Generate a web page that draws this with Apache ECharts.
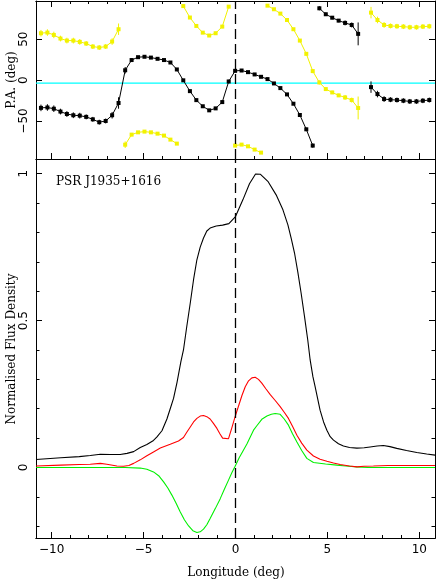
<!DOCTYPE html>
<html>
<head>
<meta charset="utf-8">
<title>PSR J1935+1616</title>
<script src="https://cdn.jsdelivr.net/npm/echarts@6.0.0/dist/echarts.min.js"></script>
<style>
  html, body { margin: 0; padding: 0; background: #fff; }
  #chart { width: 436px; height: 580px; }
</style>
</head>
<body>
<div id="chart"></div>
<script>
// 上图：偏振角 (deg)
const paLon = [-10.58, -10.23, -9.88, -9.52, -9.17, -8.82, -8.47, -8.12, -7.76, -7.41,
  -7.06, -6.71, -6.36, -6.00, -5.65, -5.30, -4.95, -4.60, -4.24, -3.89,
  -3.54, -3.19, -2.84, -2.48, -2.13, -1.78, -1.43, -1.08, -0.72, -0.37,
  -0.02, 0.33, 0.68, 1.04, 1.39, 1.74, 2.09, 2.44, 2.80, 3.15,
  3.50, 3.85, 4.20, 4.56, 4.91, 5.26, 5.61, 5.96, 6.32, 6.67,
  7.02, 7.37, 7.72, 8.08, 8.43, 8.78, 9.13, 9.48, 9.84, 10.19, 10.54]
const paBlack = [-34, -33.5, -35, -38.5, -41.5, -43, -43.5, -45, -48, -51.5,
  -50, -43, -28, 12, 24.5, 28, 28.5, 27.5, 26, 24.5,
  21.5, 13, -0.3, -13.5, -24.5, -32, -37, -34.6, -26.9, -1.7,
  11.3, 11.7, 9.7, 6.9, 4.0, 1.2, -4.1, -9.8, -17.5, -28.9,
  -42.7, -60.2, -80.1, 87.8, 80.5, 76.3, 72.7, 69.9, 67.4, 56.5,
  null, -8.6, -17.1, -23.2, -24.0, -24.4, -25.2, -26.1, -26.1, -25.2, -24.4]
const paYellow = [57.3, 58.1, 55.2, 50.8, 48.3, 48.3, 46.7, 44.7, 41.0, 39.8,
  41.0, 47.1, 62.2, -79.0, -66.7, -63.9, -63.0, -63.9, -65.5, -67.9,
  -72.8, -77.7, 90.5, 76.5, 66.2, 58, 54.5, 57.3, 65.4, 89.8,
  -80.1, -78.9, -81, -85, -88.7, 91.0, 86.6, 81.3, 73.5, 62.2,
  48.3, 32.1, 11.0, -2.9, -11.0, -15.1, -18.7, -21.2, -24.4, -34.1,
  null, 82.5, 73.5, 67.4, 66.2, 65.8, 65.4, 64.6, 64.6, 65.4, 65.8]
const paErr = [4, 4, 4, 3.5, 3.5, 3.5, 3.5, 3, 3, 3,
  3, 4, 7, 4, 2, 1.5, 1.5, 1.5, 1.5, 1.5,
  1.5, 1.5, 1.5, 1.5, 1.5, 1.5, 1.5, 1.5, 2, 2,
  1.5, 1.5, 1.5, 1.5, 1.5, 1.5, 1.5, 1.5, 1.5, 1.5,
  1.5, 2, 2.5, 2.5, 2, 2, 2, 3, 3, 14,
  null, 7, 4, 3.5, 3, 3, 3, 3, 3, 3, 3]
// 参考水平线 (青色)
const baseLon = [-10.85, 10.85]
const baseVal = [-3.7, -3.7]

// 下图：归一化流量 I / L / V
const iLon = [-10.85, -9.5, -8.5, -7.9, -7.35, -6.8, -6.27, -5.9, -5.54, -5.18,
  -4.82, -4.46, -4.27, -4.0, -3.73, -3.55, -3.37, -3.18, -2.97, -2.83,
  -2.65, -2.46, -2.28, -2.10, -1.92, -1.74, -1.56, -1.38, -1.05, -0.70,
  -0.36, 0, 0.40, 0.76, 1.09, 1.36, 1.76, 2.21, 2.58, 2.85,
  3.03, 3.21, 3.39, 3.57, 3.75, 3.93, 4.06, 4.21, 4.33, 4.60,
  4.79, 4.97, 5.15, 5.33, 5.6, 5.87, 6.2, 6.6, 7.0, 7.32,
  7.7, 8.04, 8.4, 8.77, 9.3, 9.86, 10.4, 10.85]
const iVal = [0.027, 0.033, 0.037, 0.041, 0.045, 0.044, 0.044, 0.048, 0.054, 0.068,
  0.078, 0.092, 0.104, 0.125, 0.165, 0.200, 0.235, 0.290, 0.360, 0.40,
  0.48, 0.56, 0.64, 0.707, 0.750, 0.781, 0.805, 0.815, 0.822, 0.825,
  0.830, 0.854, 0.911, 0.966, 0.999, 0.998, 0.974, 0.928, 0.877, 0.826,
  0.78, 0.730, 0.665, 0.593, 0.515, 0.434, 0.366, 0.309, 0.275, 0.195,
  0.155, 0.127, 0.105, 0.093, 0.081, 0.073, 0.068, 0.066, 0.067, 0.070,
  0.073, 0.075, 0.071, 0.065, 0.058, 0.051, 0.046, 0.042]
const lLon = [-10.85, -9.5, -8.5, -7.9, -7.35, -7.0, -6.45, -6.09, -5.8, -5.54,
  -5.18, -4.82, -4.46, -4.09, -3.55, -3.10, -2.83, -2.65, -2.46, -2.28,
  -2.10, -1.92, -1.74, -1.56, -1.38, -1.20, -1.01, -0.85, -0.70, -0.38,
  -0.20, -0.02, 0.17, 0.35, 0.53, 0.71, 0.89, 1.07, 1.25, 1.43,
  1.65, 1.89, 2.16, 2.43, 2.65, 2.88, 3.1, 3.34, 3.6, 3.88,
  4.24, 4.6, 4.97, 5.33, 5.69, 6.2, 6.6, 7.0, 7.5, 8.3,
  9.13, 10.0, 10.85]
const lVal = [0.005, 0.008, 0.010, 0.011, 0.014, 0.011, 0.005, 0.004, 0.007, 0.014,
  0.026, 0.040, 0.053, 0.066, 0.079, 0.090, 0.102, 0.12, 0.138, 0.155,
  0.167, 0.175, 0.177, 0.173, 0.165, 0.150, 0.133, 0.115, 0.100, 0.098,
  0.135, 0.173, 0.21, 0.245, 0.275, 0.295, 0.305, 0.307, 0.300, 0.287,
  0.268, 0.248, 0.228, 0.207, 0.188, 0.167, 0.14, 0.110, 0.083, 0.059,
  0.039, 0.028, 0.021, 0.015, 0.010, 0.005, 0.002, 0.004, 0.005, 0.007,
  0.007, 0.007, 0.007]
const vLon = [-10.85, -8, -6, -5.18, -4.82, -4.46, -4.18, -3.91, -3.68, -3.46,
  -3.23, -3.01, -2.78, -2.55, -2.32, -2.10, -1.92, -1.74, -1.56, -1.38,
  -1.10, -0.83, -0.60, -0.38, -0.20, -0.02, 0.20, 0.43, 0.62, 0.98,
  1.16, 1.43, 1.71, 1.95, 2.16, 2.43, 2.65, 2.88, 3.1, 3.34,
  3.6, 3.88, 4.24, 4.9, 5.51, 6.0, 6.6, 7.2, 8.5, 10.85]
const vVal = [0.0, 0.0, 0.0, -0.002, -0.006, -0.015, -0.028, -0.049, -0.07, -0.094,
  -0.122, -0.151, -0.178, -0.199, -0.215, -0.221, -0.219, -0.210, -0.195, -0.174,
  -0.14, -0.106, -0.073, -0.043, -0.018, 0.004, 0.033, 0.059, 0.080, 0.127,
  0.142, 0.164, 0.175, 0.181, 0.184, 0.181, 0.165, 0.144, 0.115, 0.087,
  0.058, 0.031, 0.017, 0.012, 0.008, 0.005, 0.002, 0.0, 0.0, 0.0]

// 刻度
const lonTicks = [-10, -5, 0, 5, 10]
const lonMinorTicks = [-10, -9, -8, -7, -6, -5, -4, -3, -2, -1, 0, 1, 2, 3, 4, 5, 6, 7, 8, 9, 10]
const paTicks = [-50, 0, 50]
const fluxTicks = [0, 0.5, 1]
const fluxMinorTicks = [-0.2, -0.1, 0, 0.1, 0.2, 0.3, 0.4, 0.5, 0.6, 0.7, 0.8, 0.9, 1]

const NUM_FONT = 'DejaVu Sans'
const fmt = (v) => (v < 0 ? '\u2212' + Math.abs(v) : String(v))

const zip = (xs, ys) => xs.map((x, i) => [x, ys[i]])

// PA 绕回 (跳变 > 90) 时断线
const paLine = (vals) => {
  const out = []
  let prev = null
  paLon.forEach((x, i) => {
    const v = vals[i]
    if (v == null) { out.push([x, '-']); prev = null; return }
    if (prev != null && Math.abs(v - prev) > 90) out.push([x, '-'])
    out.push([x, v])
    prev = v
  })
  return out
}
const paBars = (vals) => paLon
  .map((x, i) => [x, vals[i], paErr[i]])
  .filter(d => d[1] != null)

const errItem = (color) => (params, api) => {
  const x = api.value(0), y = api.value(1), e = api.value(2)
  const a = api.coord([x, y - e])
  const b = api.coord([x, y + e])
  return {
    type: 'line',
    shape: { x1: a[0], y1: a[1], x2: b[0], y2: b[1] },
    style: { stroke: color, lineWidth: 1 }
  }
}

const xAx = (grid, pos, ticks, len, showLabel) => ({
  type: 'value', gridIndex: grid, position: pos, min: -10.85, max: 10.85,
  axisLine: { show: true, onZero: false, lineStyle: { color: '#000', width: 1 } },
  axisTick: { show: true, inside: true, length: len, customValues: ticks, lineStyle: { color: '#000', width: 1 } },
  axisLabel: { show: showLabel, customValues: ticks, formatter: fmt, margin: 6,
    color: '#000', fontFamily: NUM_FONT, fontSize: 12 },
  splitLine: { show: false }
})
const yAx = (grid, pos, min, max, ticks, len, showLabel) => ({
  type: 'value', gridIndex: grid, position: pos, min: min, max: max,
  axisLine: { show: true, onZero: false, lineStyle: { color: '#000', width: 1 } },
  axisTick: { show: true, inside: true, length: len, customValues: ticks, lineStyle: { color: '#000', width: 1 } },
  axisLabel: { show: showLabel, customValues: ticks, formatter: fmt, rotate: 90, margin: 6,
    color: '#000', fontFamily: NUM_FONT, fontSize: 12 },
  splitLine: { show: false }
})

const dashZero = {
  silent: true, symbol: 'none', label: { show: false },
  lineStyle: { color: '#000', type: [10, 5], width: 1.3 },
  data: [{ xAxis: 0 }]
}

const option = {
  animation: false,
  backgroundColor: '#fff',
  grid: [
    { left: 36, right: 1, top: 1, height: 158 },
    { left: 36, right: 1, top: 159, bottom: 42 }
  ],
  xAxis: [
    xAx(0, 'bottom', lonTicks, 6, false),
    xAx(0, 'bottom', lonMinorTicks, 3, false),
    xAx(0, 'top', lonTicks, 6, false),
    xAx(0, 'top', lonMinorTicks, 3, false),
    xAx(1, 'bottom', lonTicks, 6, true),
    xAx(1, 'bottom', lonMinorTicks, 3, false)
  ],
  yAxis: [
    yAx(0, 'left', -96.5, 96.7, paTicks, 6, true),
    yAx(0, 'right', -96.5, 96.7, paTicks, 6, false),
    yAx(1, 'left', -0.24, 1.05, fluxTicks, 6, true),
    yAx(1, 'left', -0.24, 1.05, fluxMinorTicks, 3.5, false),
    yAx(1, 'right', -0.24, 1.05, fluxTicks, 6, false),
    yAx(1, 'right', -0.24, 1.05, fluxMinorTicks, 3.5, false)
  ],
  graphic: [
    { type: 'text', left: 56, top: 176, style: { text: 'PSR J1935+1616', fill: '#000', font: '12px "DejaVu Serif"' } },
    { type: 'text', x: 12, y: 80, rotation: Math.PI / 2,
      style: { text: 'P.A. (deg)', fill: '#000', font: '12px "DejaVu Serif"', align: 'center', verticalAlign: 'middle' } },
    { type: 'text', x: 12, y: 349, rotation: Math.PI / 2,
      style: { text: 'Normalised Flux Density', fill: '#000', font: '12px "DejaVu Serif"', align: 'center', verticalAlign: 'middle' } },
    { type: 'text', x: 236, y: 573,
      style: { text: 'Longitude (deg)', fill: '#000', font: '12px "DejaVu Serif"', align: 'center', verticalAlign: 'middle' } }
  ],
  series: [
    {
      name: 'baseline', type: 'line', xAxisIndex: 0, yAxisIndex: 0, z: 1,
      data: zip(baseLon, baseVal), showSymbol: false, silent: true,
      lineStyle: { color: '#00ffff', width: 1.2 }
    },
    {
      name: 'zero-pa', type: 'line', xAxisIndex: 0, yAxisIndex: 0, data: [], markLine: dashZero
    },
    {
      name: 'PA err', type: 'custom', xAxisIndex: 0, yAxisIndex: 0, clip: true,
      renderItem: errItem('#000'), encode: { x: 0, y: 1 }, data: paBars(paBlack)
    },
    {
      name: 'PA+90 err', type: 'custom', xAxisIndex: 0, yAxisIndex: 0, clip: true,
      renderItem: errItem('#f2f200'), encode: { x: 0, y: 1 }, data: paBars(paYellow)
    },
    {
      name: 'PA+90', type: 'line', xAxisIndex: 0, yAxisIndex: 0, data: paLine(paYellow),
      symbol: 'rect', symbolSize: 4, showSymbol: true, connectNulls: false,
      itemStyle: { color: '#f2f200' }, lineStyle: { color: '#f2f200', width: 1 }
    },
    {
      name: 'PA', type: 'line', xAxisIndex: 0, yAxisIndex: 0, data: paLine(paBlack),
      symbol: 'rect', symbolSize: 4, showSymbol: true, connectNulls: false,
      itemStyle: { color: '#000' }, lineStyle: { color: '#000', width: 1 }
    },
    {
      name: 'V', type: 'line', xAxisIndex: 4, yAxisIndex: 2, data: zip(vLon, vVal),
      showSymbol: false, lineStyle: { color: '#00f000', width: 1.1 }
    },
    {
      name: 'L', type: 'line', xAxisIndex: 4, yAxisIndex: 2, data: zip(lLon, lVal),
      showSymbol: false, lineStyle: { color: '#ff0000', width: 1.1 }
    },
    {
      name: 'I', type: 'line', xAxisIndex: 4, yAxisIndex: 2, data: zip(iLon, iVal),
      showSymbol: false, lineStyle: { color: '#000', width: 1.1 }, markLine: dashZero
    }
  ]
}

const myChart = echarts.init(document.getElementById('chart'))
myChart.setOption(option)
</script>
</body>
</html>
